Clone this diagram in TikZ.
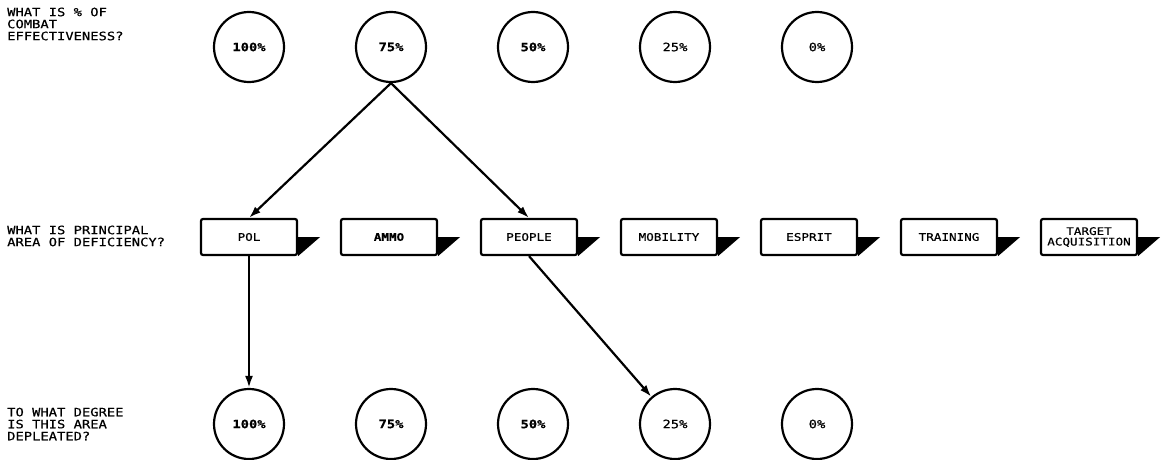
\documentclass[tikz,border=0pt]{standalone}
\usepackage{fontspec}
\setmainfont{DejaVu Sans Mono}[FakeStretch=1.2,FakeBold=0.6]
\usetikzlibrary{arrows.meta}
\tikzstyle{every node}=[font=\fontsize{11.5}{12}\selectfont]
\tikzstyle{pct}=[draw,circle,line width=2.2pt,minimum size=70pt,inner sep=0pt]
\tikzstyle{area}=[draw,rectangle,line width=2.2pt,rounded corners=2pt,minimum width=96pt,minimum height=36pt,inner sep=1pt,align=center,font=\fontsize{10.5}{10.5}\selectfont]
\tikzstyle{question}=[anchor=west,align=left,inner sep=0pt]
\begin{document}
\begin{tikzpicture}[x=1pt,y=1pt,node distance=142pt,>={Latex[length=12pt,width=8pt]}]
	\useasboundingbox (0,0) rectangle (1165,459);
	% questions on the left
	\node(qeff)[question] at (7,435){WHAT IS \% OF\\COMBAT\\EFFECTIVENESS?};
	\node(qarea)[question] at (7,223){WHAT IS PRINCIPAL\\AREA OF DEFICIENCY?};
	\node(qdeg)[question] at (7,35){TO WHAT DEGREE\\IS THIS AREA\\DEPLEATED?};
	% combat effectiveness
	\node(t100)[pct] at (249,412){\textbf{100\%}};
	\node(t75)[pct,right of=t100]{\textbf{75\%}};
	\node(t50)[pct,right of=t75]{\textbf{50\%}};
	\node(t25)[pct,right of=t50]{25\%};
	\node(t0)[pct,right of=t25]{0\%};
	% areas of deficiency
	\node(pol)[area] at (249,222){POL};
	\node(ammo)[area,node distance=140pt,right of=pol]{\textbf{AMMO}};
	\node(people)[area,node distance=140pt,right of=ammo]{PEOPLE};
	\node(mob)[area,node distance=140pt,right of=people]{MOBILITY};
	\node(esprit)[area,node distance=140pt,right of=mob]{ESPRIT};
	\node(train)[area,node distance=140pt,right of=esprit]{TRAINING};
	\node(target)[area,node distance=140pt,right of=train]{TARGET\\ACQUISITION};
	\foreach \b in {pol,ammo,people,mob,esprit,train,target}
		\fill (\b.east) -- ++(22,0) -- (\b.south east) -- cycle;
	% degree depleted
	\node(b100)[pct] at (249,35){\textbf{100\%}};
	\node(b75)[pct,right of=b100]{\textbf{75\%}};
	\node(b50)[pct,right of=b75]{\textbf{50\%}};
	\node(b25)[pct,right of=b50]{25\%};
	\node(b0)[pct,right of=b25]{0\%};

	\path[->,line width=2.2pt] (t75.south) edge (pol.north)
	                          (t75.south) edge (people.north)
	                          (pol.south) edge (b100.north)
	                          (people.south) edge (b25);
\end{tikzpicture}
\end{document}
